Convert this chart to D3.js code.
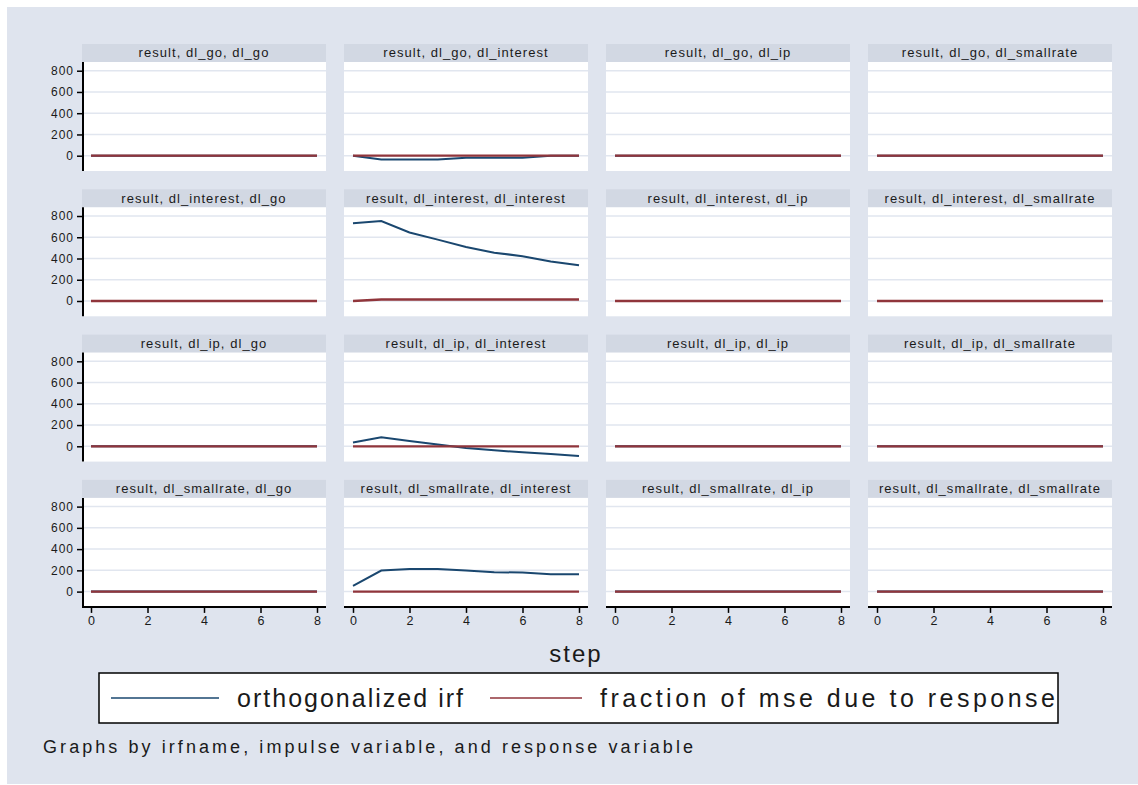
<!DOCTYPE html>
<html><head><meta charset="utf-8">
<script src="https://cdn.jsdelivr.net/npm/d3@7"></script>
<style>body{margin:0;background:#fff}svg{display:block;font-family:Arial,"Liberation Sans",sans-serif}</style>
</head><body><svg id="c" width="1138" height="785"></svg>
<script>
// ---------- data ----------
const steps = [0, 1, 2, 3, 4, 5, 6, 7, 8];
const impulses = ["dl_go", "dl_interest", "dl_ip", "dl_smallrate"];
const responses = ["dl_go", "dl_interest", "dl_ip", "dl_smallrate"];
const yTicks = [0, 200, 400, 600, 800];
const xTicks = [0, 2, 4, 6, 8];
const seriesNames = ["orthogonalized irf", "fraction of mse due to response"];
const zeros = [0, 0, 0, 0, 0, 0, 0, 0, 0];
// orthogonalized irf (impulse -> response)
const irf_go_interest = [0, -35, -35, -35, -20, -20, -20, 0, 0];
const irf_interest_interest = [733, 752, 645, 578, 508, 455, 422, 372, 337];
const irf_ip_interest = [35, 85, 50, 16, -16, -38, -57, -73, -92];
const irf_smallrate_interest = [55, 198, 213, 213, 199, 182, 180, 164, 163];
// fraction of mse due to response
const fevd_interest_interest = [0, 14, 14, 14, 14, 14, 14, 14, 14];

const irfTable = [
  [zeros, irf_go_interest, zeros, zeros],
  [zeros, irf_interest_interest, zeros, zeros],
  [zeros, irf_ip_interest, zeros, zeros],
  [zeros, irf_smallrate_interest, zeros, zeros]
];
const fevdTable = [
  [zeros, zeros, zeros, zeros],
  [zeros, fevd_interest_interest, zeros, zeros],
  [zeros, zeros, zeros, zeros],
  [zeros, zeros, zeros, zeros]
];

// ---------- layout ----------
const svg = d3.select("#c");
const BG = "#dfe4ee", STRIP = "#d2d8e3", GRID = "#e1e6ef";
const BLUE = "#1a476f", RED = "#90353b", INK = "#1a1a1a";
const FONT = "Arial, 'Liberation Sans', sans-serif";
svg.append("rect").attr("x", 7).attr("y", 7).attr("width", 1131).attr("height", 777).attr("fill", BG);

const colLeft = c => 82 + c * 262;
const panelW = 244;
const rowTop = r => 44 + r * 145.3;
const stripH = 18, plotH = 109;

const line = (x, y) => d3.line().x((d, i) => x(steps[i])).y(d => y(d));

for (let r = 0; r < 4; r++) {
  for (let c = 0; c < 4; c++) {
    const L = colLeft(c), T = rowTop(r), PT = T + stripH, PB = PT + plotH;
    const g = svg.append("g");
    g.append("rect").attr("x", L).attr("y", T).attr("width", panelW).attr("height", stripH).attr("fill", STRIP);
    g.append("text").attr("x", L + panelW / 2).attr("y", T + 13.4).attr("text-anchor", "middle")
      .attr("font-size", 13).attr("letter-spacing", 1.05).attr("fill", INK)
      .text(`result, ${impulses[r]}, ${responses[c]}`);
    g.append("rect").attr("x", L).attr("y", PT).attr("width", panelW).attr("height", plotH).attr("fill", "#fff");
    const x = d3.scaleLinear().domain([0, 8]).range([L + 9, L + 235]);
    const y = d3.scaleLinear().domain([-144, 882]).range([PB, PT]);
    g.selectAll("line.grid").data(yTicks).enter().append("line")
      .attr("x1", L).attr("x2", L + panelW).attr("y1", d => y(d)).attr("y2", d => y(d))
      .attr("stroke", GRID).attr("stroke-width", 1.5);
    g.append("path").datum(irfTable[r][c]).attr("d", line(x, y))
      .attr("fill", "none").attr("stroke", BLUE).attr("stroke-width", 2);
    g.append("path").datum(fevdTable[r][c]).attr("d", line(x, y))
      .attr("fill", "none").attr("stroke", RED).attr("stroke-width", 2.3);
    if (c === 0) {
      const ax = g.append("g").attr("transform", `translate(${L + 1},0)`)
        .call(d3.axisLeft(y).tickValues(yTicks).tickSize(6).tickPadding(3).tickFormat(d3.format("d")));
      ax.select(".domain").attr("d", `M0,${PT}V${PB}`).attr("stroke-width", 2);
      ax.selectAll(".tick line").attr("stroke-width", 1.5);
      ax.selectAll("text").attr("font-size", 12).attr("letter-spacing", 1).attr("font-family", FONT).attr("fill", INK);
    }
    if (r === 3) {
      const ax = g.append("g").attr("transform", `translate(0,${PB})`)
        .call(d3.axisBottom(x).tickValues(xTicks).tickSize(6).tickPadding(3).tickFormat(d3.format("d")));
      ax.select(".domain").attr("d", `M${L},0H${L + panelW}`).attr("stroke-width", 2);
      ax.selectAll(".tick line").attr("stroke-width", 1.5);
      ax.selectAll("text").attr("font-size", 12.5).attr("font-family", FONT).attr("fill", INK);
    }
  }
}

// x title
svg.append("text").attr("x", 576).attr("y", 662).attr("text-anchor", "middle")
  .attr("font-size", 24).attr("letter-spacing", 2).attr("fill", INK).text("step");

// legend
const lg = svg.append("g");
lg.append("rect").attr("x", 99).attr("y", 673).attr("width", 959).attr("height", 50)
  .attr("fill", "#fff").attr("stroke", "#000").attr("stroke-width", 1.5);
const legItems = [
  {name: seriesNames[0], color: BLUE, k0: 111, k1: 219, tx: 237, tl: 226},
  {name: seriesNames[1], color: RED, k0: 490, k1: 582, tx: 600, tl: 455}
];
legItems.forEach(it => {
  lg.append("line").attr("x1", it.k0).attr("x2", it.k1).attr("y1", 698).attr("y2", 698)
    .attr("stroke", it.color).attr("stroke-width", 1.5);
  lg.append("text").attr("x", it.tx).attr("y", 707).attr("font-size", 25)
    .attr("textLength", it.tl).attr("lengthAdjust", "spacing")
    .attr("fill", INK).text(it.name);
});

// note
svg.append("text").attr("x", 43).attr("y", 753).attr("font-size", 18)
  .attr("textLength", 650).attr("lengthAdjust", "spacing").attr("fill", INK)
  .text("Graphs by irfname, impulse variable, and response variable");
</script></body></html>
